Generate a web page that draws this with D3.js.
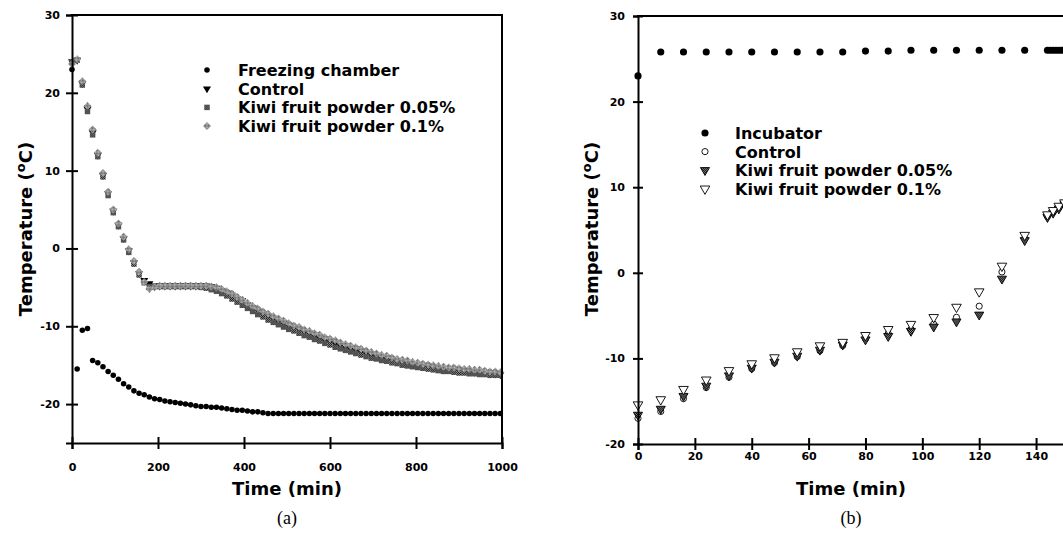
<!DOCTYPE html>
<html>
<head>
<meta charset="utf-8">
<script src="https://cdn.jsdelivr.net/npm/d3@7"></script>
<style>
  body { margin: 0; background: #fff; }
  svg { display: block; }
  .axis text { font-family: "DejaVu Sans", sans-serif; font-weight: bold; font-size: 11px; fill: #000; }
  .axis path, .axis line { stroke: #000; stroke-width: 2px; }
  .axis-title { font-family: "DejaVu Sans", sans-serif; font-weight: bold; font-size: 18px; }
  .legend text { font-family: "DejaVu Sans", sans-serif; font-weight: bold; font-size: 16px; }
  .panel-label { font-family: "Liberation Serif", serif; font-size: 18px; }
</style>
</head>
<body>
<script>
// (a) freezing, time in min
const timeA = [
  0, 12, 24, 36, 48, 60, 72, 84, 96, 108,
  120, 132, 144, 156, 168, 180, 192, 204, 216, 228,
  240, 252, 264, 276, 288, 300, 312, 324, 336, 348,
  360, 372, 384, 396, 408, 420, 432, 444, 456, 468,
  480, 492, 504, 516, 528, 540, 552, 564, 576, 588,
  600, 612, 624, 636, 648, 660, 672, 684, 696, 708,
  720, 732, 744, 756, 768, 780, 792, 804, 816, 828,
  840, 852, 864, 876, 888, 900, 912, 924, 936, 948,
  960, 972, 984, 996
];
const freezingChamber = [
  23.0, -15.5, -10.5, -10.3, -14.4, -14.7, -15.2, -15.8, -16.3, -16.8,
  -17.4, -17.8, -18.3, -18.6, -18.8, -19.1, -19.3, -19.4, -19.6, -19.7,
  -19.8, -19.9, -20.0, -20.1, -20.2, -20.3, -20.3, -20.4, -20.4, -20.5,
  -20.6, -20.7, -20.8, -20.8, -20.9, -21.0, -21.0, -21.1, -21.2, -21.2,
  -21.2, -21.2, -21.2, -21.2, -21.2, -21.2, -21.2, -21.2, -21.2, -21.2,
  -21.2, -21.2, -21.2, -21.2, -21.2, -21.2, -21.2, -21.2, -21.2, -21.2,
  -21.2, -21.2, -21.2, -21.2, -21.2, -21.2, -21.2, -21.2, -21.2, -21.2,
  -21.2, -21.2, -21.2, -21.2, -21.2, -21.2, -21.2, -21.2, -21.2, -21.2,
  -21.2, -21.2, -21.2, -21.2
];
const controlA = [
  24.0, 24.2, 21.2, 17.9, 14.9, 12.0, 9.4, 7.1, 4.8, 3.0,
  1.3, -0.3, -1.8, -3.2, -4.1, -4.5, -4.8, -4.8, -4.8, -4.8,
  -4.8, -4.8, -4.8, -4.8, -4.8, -4.8, -4.8, -4.9, -5.1, -5.4,
  -5.7, -6.0, -6.4, -6.7, -7.2, -7.6, -8.0, -8.4, -8.7, -9.0,
  -9.3, -9.6, -9.9, -10.2, -10.4, -10.7, -10.9, -11.2, -11.5, -11.8,
  -12.0, -12.2, -12.5, -12.7, -12.9, -13.1, -13.3, -13.5, -13.7, -13.9,
  -14.0, -14.2, -14.3, -14.5, -14.6, -14.7, -14.9, -15.0, -15.1, -15.2,
  -15.3, -15.4, -15.5, -15.5, -15.6, -15.7, -15.7, -15.8, -15.9, -15.9,
  -16.0, -16.1, -16.1, -16.2
];
const kiwi005A = [
  24.0, 24.2, 21.0, 17.6, 14.6, 11.8, 9.2, 6.8, 4.6, 2.8,
  1.1, -0.5, -2.0, -3.4, -4.4, -4.9, -4.9, -4.9, -4.9, -4.9,
  -4.9, -4.9, -4.9, -4.9, -4.9, -5.0, -5.1, -5.3, -5.5, -5.8,
  -6.1, -6.5, -6.9, -7.3, -7.7, -8.1, -8.5, -8.8, -9.2, -9.5,
  -9.8, -10.1, -10.4, -10.6, -10.9, -11.2, -11.4, -11.7, -11.9, -12.2,
  -12.4, -12.7, -12.9, -13.1, -13.3, -13.5, -13.7, -13.9, -14.1, -14.2,
  -14.4, -14.5, -14.7, -14.8, -15.0, -15.1, -15.2, -15.3, -15.4, -15.5,
  -15.6, -15.7, -15.8, -15.8, -15.9, -16.0, -16.0, -16.1, -16.1, -16.2,
  -16.2, -16.3, -16.3, -16.3
];
const kiwi01A = [
  23.7, 24.3, 21.5, 18.3, 15.3, 12.3, 9.7, 7.3, 5.0, 3.2,
  1.5, -0.1, -1.6, -3.0, -4.3, -5.2, -5.0, -4.8, -4.8, -4.8,
  -4.8, -4.8, -4.8, -4.8, -4.8, -4.8, -4.8, -4.9, -5.0, -5.2,
  -5.5, -5.8, -6.2, -6.6, -7.0, -7.4, -7.7, -8.1, -8.4, -8.7,
  -9.0, -9.3, -9.6, -9.9, -10.1, -10.4, -10.6, -10.9, -11.1, -11.4,
  -11.6, -11.8, -12.1, -12.3, -12.5, -12.7, -12.9, -13.1, -13.3, -13.5,
  -13.7, -13.8, -14.0, -14.2, -14.3, -14.4, -14.6, -14.7, -14.8, -14.9,
  -15.0, -15.1, -15.2, -15.3, -15.3, -15.4, -15.5, -15.5, -15.6, -15.6,
  -15.7, -15.8, -15.8, -15.9
];

// (b) thawing
const incubatorTime = [0, 8, 16, 24, 32, 40, 48, 56, 64, 72, 80, 88, 96, 104, 112, 120, 128, 136, 144, 145, 146, 147, 148, 149];
const incubator = [23.0, 25.8, 25.8, 25.8, 25.8, 25.8, 25.8, 25.8, 25.8, 25.8, 25.9, 25.9, 26.0, 26.0, 26.0, 26.0, 26.0, 26.0, 26.0, 26.0, 26.0, 26.0, 26.0, 26.0];
const timeB = [0, 8, 16, 24, 32, 40, 48, 56, 64, 72, 80, 88, 96, 104, 112, 120, 128, 136, 144, 146, 148, 150];
const controlB = [-17.0, -16.2, -14.7, -13.4, -12.2, -11.2, -10.5, -9.8, -9.1, -8.5, -7.7, -7.1, -6.6, -6.0, -5.2, -3.9, 0.1, 4.0, 6.6, 7.1, 7.6, 8.1];
const kiwi005B = [-16.6, -15.9, -14.4, -13.2, -12.0, -11.1, -10.4, -9.7, -9.0, -8.4, -7.8, -7.4, -6.8, -6.3, -5.7, -4.9, -0.7, 3.8, 6.5, 7.0, 7.5, 8.0];
const kiwi01B = [-15.4, -14.8, -13.6, -12.5, -11.4, -10.6, -9.9, -9.2, -8.5, -8.1, -7.3, -6.6, -6.0, -5.2, -4.0, -2.2, 0.8, 4.4, 6.8, 7.3, 7.8, 8.2];

const ticksXA = [0, 200, 400, 600, 800, 1000];
const ticksYA = [30, 20, 10, 0, -10, -20];
const ticksXB = [0, 20, 40, 60, 80, 100, 120, 140];
const ticksYB = [30, 20, 10, 0, -10, -20];
const legendA = ['Freezing chamber', 'Control', 'Kiwi fruit powder 0.05%', 'Kiwi fruit powder 0.1%'];
const legendB = ['Incubator', 'Control', 'Kiwi fruit powder 0.05%', 'Kiwi fruit powder 0.1%'];

const w = 1063, h = 533;
const svg = d3.select('body').append('svg').attr('width', w).attr('height', h);

// dithered grey fills
const defs = svg.append('defs');
function checker(id, light, dark) {
  const p = defs.append('pattern').attr('id', id).attr('width', 2).attr('height', 2)
    .attr('patternUnits', 'userSpaceOnUse');
  p.append('rect').attr('width', 2).attr('height', 2).attr('fill', light);
  p.append('rect').attr('width', 1).attr('height', 1).attr('fill', dark);
  p.append('rect').attr('x', 1).attr('y', 1).attr('width', 1).attr('height', 1).attr('fill', dark);
}
checker('chkSq', '#8a8a8a', '#1a1a1a');
checker('chkDi', '#c0c0c0', '#606060');
checker('chkTri', '#8c8c8c', '#000');

const xA = d3.scaleLinear().domain([0, 1000]).range([72, 502]);
const yA = d3.scaleLinear().domain([-25, 30]).range([443, 15]);
const xB = d3.scaleLinear().domain([0, 150]).range([638, 1064.5]);
const yB = d3.scaleLinear().domain([-20, 30]).range([444, 16]);

const sym = (type, size) => d3.symbol().type(type).size(size)();
const fmt = d => String(d);

// markers
const markA = [
  { d: sym(d3.symbolCircle, 24), fill: '#000', stroke: 'none', rot: 0 },
  { d: sym(d3.symbolTriangle, 28), fill: '#000', stroke: 'none', rot: 180 },
  { d: sym(d3.symbolSquare, 30), fill: 'url(#chkSq)', stroke: 'none', rot: 0 },
  { d: sym(d3.symbolSquare, 32), fill: 'url(#chkDi)', stroke: 'none', rot: 45 }
];
const markB = [
  { d: sym(d3.symbolCircle, 40), fill: '#000', stroke: 'none', rot: 0 },
  { d: sym(d3.symbolCircle, 30), fill: '#fff', stroke: '#000', rot: 0 },
  { d: sym(d3.symbolTriangle, 36), fill: 'url(#chkTri)', stroke: '#000', rot: 180 },
  { d: sym(d3.symbolTriangle, 40), fill: '#fff', stroke: '#000', rot: 180 }
];

function drawSeries(g, xs, ys, times, vals, m) {
  g.append('g').selectAll('path')
    .data(vals)
    .enter()
    .append('path')
    .attr('d', m.d)
    .attr('transform', (d, i) => 'translate(' + xs(times[i]) + ',' + ys(d) + ') rotate(' + m.rot + ')')
    .attr('fill', m.fill)
    .attr('stroke', m.stroke)
    .attr('stroke-width', 0.9);
}

// ---------- panel (a)
const gA = svg.append('g');
drawSeries(gA, xA, yA, timeA, freezingChamber, markA[0]);
drawSeries(gA, xA, yA, timeA, controlA, markA[1]);
drawSeries(gA, xA, yA, timeA, kiwi005A, markA[2]);
drawSeries(gA, xA, yA, timeA, kiwi01A, markA[3]);

const axYA = gA.append('g').attr('class', 'axis').attr('transform', 'translate(72,0)')
  .call(d3.axisLeft(yA).tickValues(ticksYA).tickFormat(fmt).tickSizeOuter(0).tickSize(6).tickPadding(6));
axYA.selectAll('.tick line').attr('x1', 6);
const axXA = gA.append('g').attr('class', 'axis').attr('transform', 'translate(0,443)')
  .call(d3.axisBottom(xA).tickValues(ticksXA).tickFormat(fmt).tickSizeOuter(0).tickSize(6).tickPadding(14));
axXA.selectAll('.tick line').attr('y1', -6);
gA.append('line').attr('x1', 71).attr('x2', 503).attr('y1', 15).attr('y2', 15).attr('stroke', '#000').attr('stroke-width', 2);
gA.append('line').attr('x1', 502).attr('x2', 502).attr('y1', 15).attr('y2', 443).attr('stroke', '#000').attr('stroke-width', 2);

const legA = gA.append('g').attr('class', 'legend');
legendA.forEach((name, i) => {
  const cy = 70 + i * 18.7;
  const m = markA[i];
  legA.append('path').attr('d', m.d)
    .attr('transform', 'translate(207,' + cy + ') rotate(' + m.rot + ')')
    .attr('fill', m.fill).attr('stroke', m.stroke);
  legA.append('text').attr('x', 238).attr('y', cy + 6).text(name);
});

gA.append('text').attr('class', 'axis-title').attr('x', 287).attr('y', 495)
  .attr('text-anchor', 'middle').text('Time (min)');
const tA = gA.append('text').attr('class', 'axis-title').attr('text-anchor', 'middle')
  .attr('transform', 'translate(32,229) rotate(-90)');
tA.append('tspan').text('Temperature (');
tA.append('tspan').attr('font-size', 13).attr('dy', -7).text('o');
tA.append('tspan').attr('dy', 7).text('C)');
gA.append('text').attr('class', 'panel-label').attr('x', 287).attr('y', 524)
  .attr('text-anchor', 'middle').text('(a)');

// ---------- panel (b)
const gB = svg.append('g');
drawSeries(gB, xB, yB, incubatorTime, incubator, markB[0]);
drawSeries(gB, xB, yB, timeB, controlB, markB[1]);
drawSeries(gB, xB, yB, timeB, kiwi005B, markB[2]);
drawSeries(gB, xB, yB, timeB, kiwi01B, markB[3]);

const axYB = gB.append('g').attr('class', 'axis').attr('transform', 'translate(638,0)')
  .call(d3.axisLeft(yB).tickValues(ticksYB).tickFormat(fmt).tickSizeOuter(0).tickSize(5).tickPadding(8));
axYB.selectAll('.tick line').attr('x1', 5);
const axXB = gB.append('g').attr('class', 'axis').attr('transform', 'translate(0,444)')
  .call(d3.axisBottom(xB).tickValues(ticksXB).tickFormat(fmt).tickSizeOuter(0).tickSize(6).tickPadding(2));
axXB.selectAll('.tick line').attr('y1', -6);
gB.append('line').attr('x1', 637).attr('x2', 1065).attr('y1', 16).attr('y2', 16).attr('stroke', '#000').attr('stroke-width', 2);

const legB = gB.append('g').attr('class', 'legend');
legendB.forEach((name, i) => {
  const cy = 133 + i * 18.6;
  const m = markB[i];
  legB.append('path').attr('d', m.d)
    .attr('transform', 'translate(705,' + cy + ') rotate(' + m.rot + ')')
    .attr('fill', m.fill).attr('stroke', m.stroke).attr('stroke-width', 0.9);
  legB.append('text').attr('x', 735).attr('y', cy + 6).text(name);
});

gB.append('text').attr('class', 'axis-title').attr('x', 851).attr('y', 495)
  .attr('text-anchor', 'middle').text('Time (min)');
const tB = gB.append('text').attr('class', 'axis-title').attr('text-anchor', 'middle')
  .attr('transform', 'translate(598,229) rotate(-90)');
tB.append('tspan').text('Temperature (');
tB.append('tspan').attr('font-size', 13).attr('dy', -7).text('o');
tB.append('tspan').attr('dy', 7).text('C)');
gB.append('text').attr('class', 'panel-label').attr('x', 851).attr('y', 524)
  .attr('text-anchor', 'middle').text('(b)');
</script>
</body>
</html>
